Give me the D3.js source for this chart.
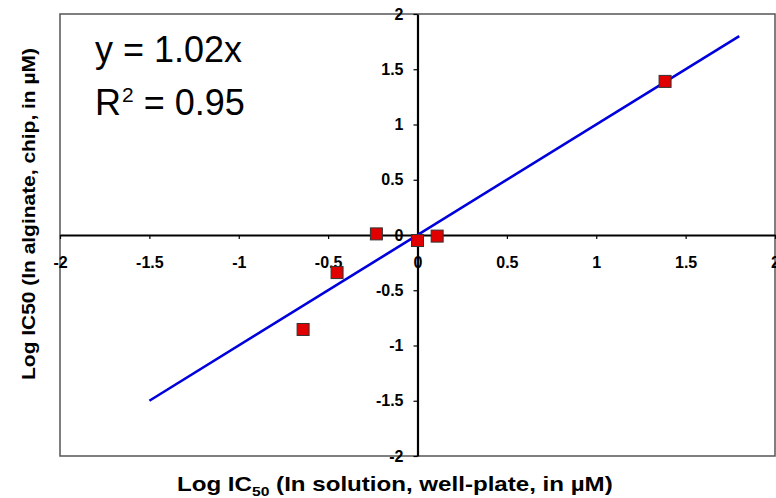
<!DOCTYPE html>
<html><head><meta charset="utf-8">
<script src="https://cdn.jsdelivr.net/npm/d3@7"></script>
<style>
html,body{margin:0;padding:0;background:#fff;}
svg{display:block;font-family:"Liberation Sans",Arial,sans-serif;}
</style></head>
<body>
<svg id="chart" width="776" height="498"></svg>
<script>
// Data
const pointX = [-0.64, -0.45, -0.23, 0.00, 0.11, 1.385];
const pointY = [-0.855, -0.34, 0.01, -0.05, -0.01, 1.39];
const trendX = [-1.5, 1.8];
const trendY = [-1.5, 1.8];
const xTicks = [-2, -1.5, -1, -0.5, 0, 0.5, 1, 1.5, 2];
const yTicks = [-2, -1.5, -1, -0.5, 0, 0.5, 1, 1.5, 2];
const eqText = "y = 1.02x";
const r2Value = "0.95";

const svg = d3.select("#chart");
const L = 60, R = 775, T = 14, B = 456;
const x = d3.scaleLinear().domain([-2, 2]).range([L, R]);
const y = d3.scaleLinear().domain([-2, 2]).range([B, T]);
const fmt = d => d3.format("")(d).replace("\u2212", "-");

// plot border
svg.append("rect").attr("x", L).attr("y", T).attr("width", R - L).attr("height", B - T)
  .attr("fill", "none").attr("stroke", "#555").attr("stroke-width", 1.5);

// x axis (through y=0)
const xAxis = d3.axisBottom(x).tickValues(xTicks).tickSize(4).tickFormat(fmt).tickSizeOuter(0);
const gx = svg.append("g").attr("transform", `translate(0,${y(0)})`).call(xAxis);
gx.attr("font-size", 16).attr("font-family", "Liberation Sans, Arial, sans-serif");
gx.select(".domain").attr("stroke", "#000").attr("stroke-width", 2.2);
gx.selectAll(".tick line").attr("stroke", "#000").attr("stroke-width", 1.2);
gx.selectAll(".tick text").attr("font-size", 16).attr("font-weight", "bold").attr("fill", "#000")
  .attr("y", 27).attr("dy", "0.35em");

// y axis (through x=0)
const yAxis = d3.axisLeft(y).tickValues(yTicks).tickSize(4).tickFormat(fmt).tickSizeOuter(0);
const gy = svg.append("g").attr("transform", `translate(${x(0)},0)`).call(yAxis);
gy.attr("font-size", 16).attr("font-family", "Liberation Sans, Arial, sans-serif");
gy.select(".domain").attr("stroke", "#000").attr("stroke-width", 2.2);
gy.selectAll(".tick line").attr("stroke", "#000").attr("stroke-width", 1.2);
gy.selectAll(".tick text").attr("font-size", 16).attr("font-weight", "bold").attr("fill", "#000")
  .attr("x", -14);

// trend line
const trend = trendX.map((v, i) => [v, trendY[i]]);
svg.append("path").datum(trend)
  .attr("d", d3.line().x(d => x(d[0])).y(d => y(d[1])))
  .attr("fill", "none").attr("stroke", "#0000dd").attr("stroke-width", 2.6);

// points
const pts = pointX.map((v, i) => [v, pointY[i]]);
const S = 12;
svg.append("g").selectAll("rect").data(pts).join("rect")
  .attr("x", d => x(d[0]) - S / 2).attr("y", d => y(d[1]) - S / 2)
  .attr("width", S).attr("height", S)
  .attr("fill", "#e00000").attr("stroke", "#333").attr("stroke-width", 1);

// equation text
svg.append("text").attr("x", 95).attr("y", 62).attr("font-size", 36)
  .attr("fill", "#000").text(eqText);
const r2 = svg.append("text").attr("x", 95).attr("y", 115).attr("font-size", 36).attr("fill", "#000");
r2.append("tspan").text("R");
r2.append("tspan").attr("font-size", 21).attr("dy", -13).attr("dx", 1).text("2");
r2.append("tspan").attr("dy", 13).text(" = " + r2Value);

// x axis title
const xt = svg.append("text").attr("x", 177).attr("y", 491).attr("font-size", 20)
  .attr("font-weight", "bold").attr("fill", "#000");
xt.append("tspan").text("Log IC");
xt.append("tspan").attr("font-size", 13).attr("dy", 5).text("50");
xt.append("tspan").attr("dy", -5).text("  (In solution, well-plate, in \u00b5M)");
const xtLen = xt.node().getComputedTextLength();
xt.attr("transform", `translate(177,0) scale(${436 / xtLen},1) translate(-177,0)`);

// y axis title
const yt = svg.append("text").attr("font-size", 19).attr("font-weight", "bold").attr("fill", "#000")
  .attr("text-anchor", "middle")
  .attr("transform", `translate(35,214) rotate(-90)`)
  .text("Log IC50 (In alginate, chip, in \u00b5M)");
const ytLen = yt.node().getComputedTextLength();
yt.attr("transform", `translate(35,214) rotate(-90) scale(${332 / ytLen},1)`);
</script>
</body></html>
